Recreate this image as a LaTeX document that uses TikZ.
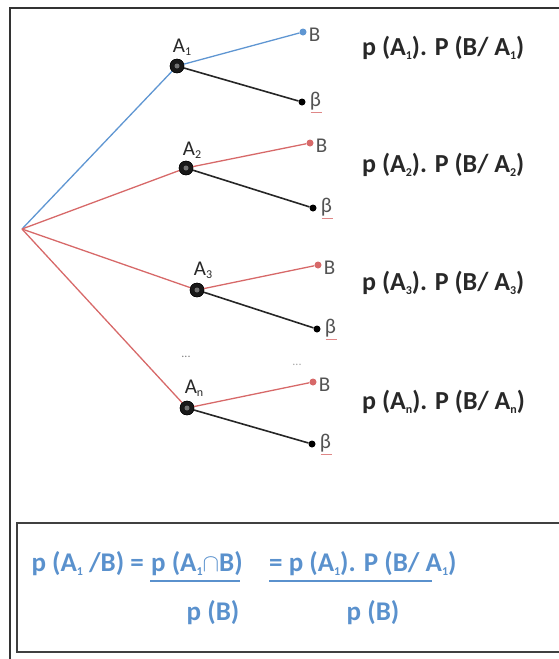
\documentclass[tikz,border=0pt]{standalone}
\usepackage{fontspec}
\setmainfont{Carlito}
\newcommand\mysub[1]{\raisebox{-0.3ex}{\fontsize{12}{12}\selectfont #1}}
\definecolor{lblue}{RGB}{95,150,210}
\definecolor{lred}{RGB}{215,105,105}
\definecolor{fblue}{RGB}{90,145,205}
\definecolor{tgray}{RGB}{40,40,40}
\tikzset{
  bl/.style={draw=lblue, line width=1.3pt},
  rd/.style={draw=lred, line width=1.3pt},
  bk/.style={draw=black!85, line width=1.6pt},
  bigdot/.style={circle, fill=black!90, draw=black, minimum size=14pt, inner sep=0pt},
  dotb/.style={circle, fill=lblue, minimum size=7pt, inner sep=0pt},
  dotr/.style={circle, fill=lred, minimum size=7pt, inner sep=0pt},
  dotk/.style={circle, fill=black, minimum size=7pt, inner sep=0pt},
  lbl/.style={anchor=west, inner sep=1pt, text=tgray!80, font=\fontsize{21}{24}\selectfont},
  alab/.style={inner sep=0pt, text=tgray, font=\fontsize{21}{24}\selectfont},
  prod/.style={anchor=west, inner sep=0pt, text=tgray, font=\bfseries\fontsize{26}{30}\selectfont},
  form/.style={anchor=west, inner sep=0pt, text=fblue, font=\bfseries\fontsize{27}{30}\selectfont},
  frm/.style={draw=black!80, line width=2.5pt},
}
\begin{document}
\begin{tikzpicture}[x=1pt,y=-1pt]
\useasboundingbox (0,0) rectangle (558,659);
% frames
\draw[frm] (10,8) rectangle (575,680);
\draw[draw=black!75, line width=1.6pt] (17,523) rectangle (575,652);
% root
\coordinate (r) at (22,229);
% branch 1
\node[bigdot] (a1) at (177,66) {};
\node[dotb] (b1) at (303,32) {};
\node[dotk] (c1) at (302,102) {};
% branch 2
\node[bigdot] (a2) at (186,168) {};
\node[dotr] (b2) at (310,143) {};
\node[dotk] (c2) at (313,208) {};
% branch 3
\node[bigdot] (a3) at (197,290) {};
\node[dotr] (b3) at (318,265) {};
\node[dotk] (c3) at (317,329) {};
% branch n
\node[bigdot] (an) at (187,408) {};
\node[dotr] (bn) at (313,382) {};
\node[dotk] (cn) at (312,444) {};
% edges
\draw[bl] (r) -- (a1.center);
\draw[rd] (r) -- (a2.center);
\draw[rd] (r) -- (a3.center);
\draw[rd] (r) -- (an.center);
\draw[bl] (a1.center) -- (b1);
\draw[rd] (a2.center) -- (b2);
\draw[rd] (a3.center) -- (b3);
\draw[rd] (an.center) -- (bn);
\draw[bk] (a1.center) -- (c1);
\draw[bk] (a2.center) -- (c2);
\draw[bk] (a3.center) -- (c3);
\draw[bk] (an.center) -- (cn);
\foreach \n in {a1,a2,a3,an} {\node[bigdot] at (\n) {}; \node[circle, fill=black!55, minimum size=5pt, inner sep=0pt] at (\n) {};}
% labels
\node[alab] (la1) at (182,47) {A\mysub{1}};
\node[alab] (la2) at (192,150) {A\mysub{2}};
\node[alab] (la3) at (203,270) {A\mysub{3}};
\node[alab] (lan) at (194,388) {A\mysub{n}};
\foreach \n in {b1,b2,b3,bn} {\node[lbl] at ([xshift=1pt,yshift=-3pt]\n.east) {B};}
\foreach \n in {c1,c2,c3,cn} {
  \node[lbl] (g\n) at ([xshift=3pt,yshift=1pt]\n.east) {β};
  \draw[lred!80, line width=0.8pt] ([yshift=-1pt]g\n.south west) ++(2pt,0) -- ++(11pt,0);
}
\node[text=gray, font=\fontsize{12}{12}\selectfont, inner sep=0pt] (d1) at (186,357) {...};
\node[text=gray!70, font=\fontsize{12}{12}\selectfont, inner sep=0pt] (d2) at (297,365) {...};
% products
\node[prod] (p1) at (362,48) {p (A\mysub{1}). P (B/ A\mysub{1})};
\node[prod] (p2) at (362,165) {p (A\mysub{2}). P (B/ A\mysub{2})};
\node[prod] (p3) at (362,283) {p (A\mysub{3}). P (B/ A\mysub{3})};
\node[prod] (pn) at (362,402) {p (A\mysub{n}). P (B/ A\mysub{n})};
% formula
\node[form, anchor=east] (f1) at (144,564) {p (A\mysub{1} /B) =};
\node[form] (f2) at (151,564) {p (A\mysub{1}$\cap$B)};
\node[form] (f3) at (269,564) {= p (A\mysub{1}). P (B/ A\mysub{1})};
\draw[fblue, line width=1.4pt] (150,581) -- (240,581);
\draw[fblue, line width=1.4pt] (269,581) -- (432,581);
\node[form, anchor=center] (q1) at (213,613) {p (B)};
\node[form, anchor=center] (q2) at (373,613) {p (B)};
\end{tikzpicture}
\end{document}
